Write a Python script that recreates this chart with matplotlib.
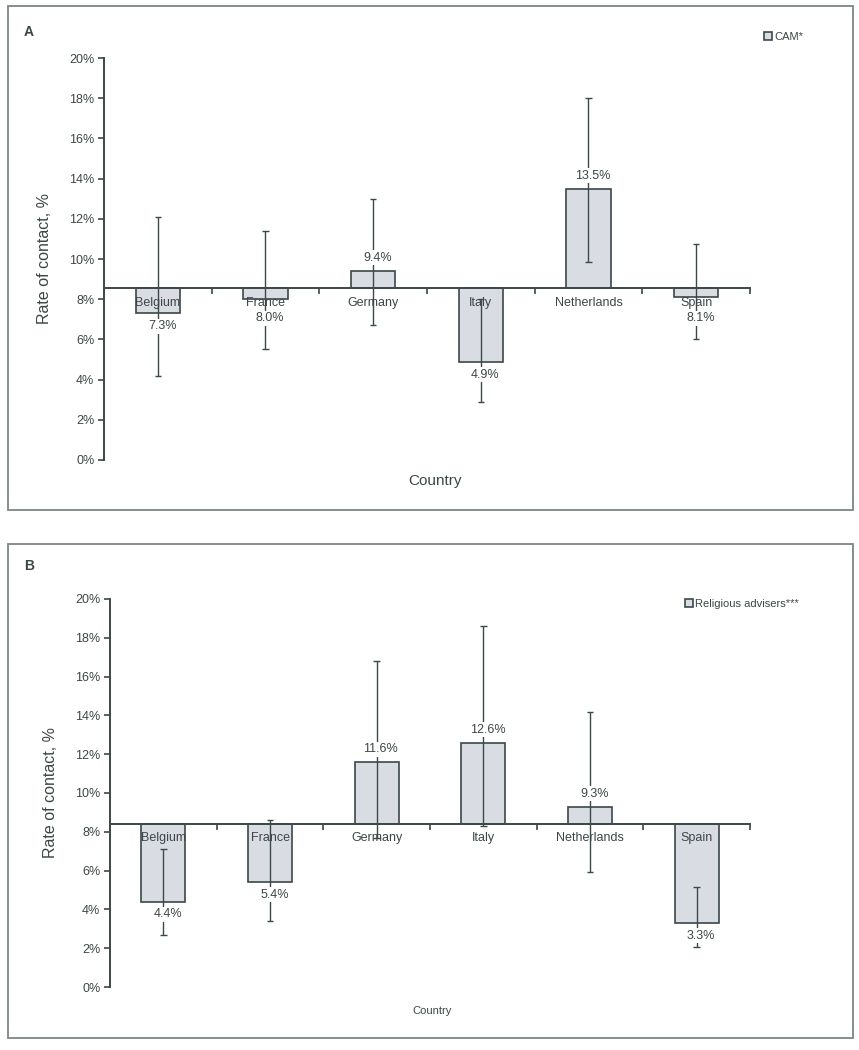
import matplotlib
matplotlib.use("Agg")
import matplotlib.pyplot as plt
from matplotlib.patches import Rectangle, Patch
import numpy as np

plt.rcParams['font.family'] = ['Liberation Sans', 'DejaVu Sans']

countries = ["Belgium", "France", "Germany", "Italy", "Netherlands", "Spain"]

# panel A - CAM
cam_rate = [7.3, 8.0, 9.4, 4.9, 13.5, 8.1]
cam_low = [4.2, 5.5, 6.7, 2.9, 9.85, 6.0]
cam_high = [12.1, 11.4, 13.0, 8.0, 18.0, 10.75]
cam_base = 8.55

# panel B - religious advisers
rel_rate = [4.4, 5.4, 11.6, 12.6, 9.3, 3.3]
rel_low = [2.7, 3.4, 7.7, 8.3, 5.95, 2.05]
rel_high = [7.1, 8.6, 16.8, 18.6, 14.15, 5.15]
rel_base = 8.4

yticks = np.arange(0, 21, 2)
ytick_labels = [f"{v}%" for v in yticks]

LINE = "#3b4948"
TEXT = "#3d4646"
FILL = "#d9dde3"

W, H = 859, 1050
fig = plt.figure(figsize=(W / 100, H / 100), dpi=100)


def px_axes(x0, y_top, x1, y_bot):
    return fig.add_axes([x0 / W, 1 - y_bot / H, (x1 - x0) / W, (y_bot - y_top) / H])


def draw_panel(ax, rate, low, high, base):
    x = np.arange(len(countries))
    heights = [r - base for r in rate]
    ax.bar(x, heights, bottom=base, width=0.41, color=FILL,
           edgecolor=LINE, linewidth=1.2, zorder=2)
    ax.vlines(x, low, high, color=LINE, linewidth=1.0, zorder=3)
    ax.hlines(low, x - 0.03, x + 0.03, color=LINE, linewidth=1.0, zorder=3)
    ax.hlines(high, x - 0.03, x + 0.03, color=LINE, linewidth=1.0, zorder=3)

    for xi, r in zip(x, rate):
        if r > base:
            ty = r + 0.65
        else:
            # keep the value clear of the country name under the baseline
            ty = min(r - 0.65, base - 1.5)
        ax.text(xi + 0.04, ty, f"{r:.1f}%", ha="center", va="center",
                fontsize=9, color=TEXT, zorder=4,
                bbox=dict(boxstyle="square,pad=0.12", fc="white", ec="none"))
        ax.text(xi, base - 0.72, countries[xi], ha="center", va="center",
                fontsize=9, color=TEXT, zorder=5)

    ax.set_xlim(-0.5, len(countries) - 0.5)
    ax.set_ylim(0, 20)
    ax.set_yticks(yticks)
    ax.set_yticklabels(ytick_labels, fontsize=9, color=TEXT)
    ax.set_xticks(np.arange(-0.5, len(countries), 1.0))
    ax.set_xticklabels([])
    ax.tick_params(axis="x", direction="out", length=4, color=LINE, width=1.2)
    ax.tick_params(axis="y", direction="out", length=4, color=LINE, width=1.2, pad=3)
    ax.spines["top"].set_visible(False)
    ax.spines["right"].set_visible(False)
    ax.spines["bottom"].set_position(("data", base))
    ax.spines["bottom"].set_color(LINE)
    ax.spines["bottom"].set_linewidth(1.4)
    ax.spines["left"].set_color(LINE)
    ax.spines["left"].set_linewidth(1.4)
    ax.set_ylabel("Rate of contact, %", fontsize=11.5, color=TEXT, labelpad=12)


# outer frames
for (x0, y0, x1, y1) in [(8, 6, 853, 510), (8, 544, 853, 1038)]:
    fig.patches.append(Rectangle((x0 / W, 1 - y1 / H), (x1 - x0) / W, (y1 - y0) / H,
                                 transform=fig.transFigure, fill=False,
                                 edgecolor="#7d8585", linewidth=1.3))

axA = px_axes(104, 58, 750, 460)
draw_panel(axA, cam_rate, cam_low, cam_high, cam_base)
axB = px_axes(110, 599, 750, 987)
draw_panel(axB, rel_rate, rel_low, rel_high, rel_base)

fig.text(435 / W, 1 - 481 / H, "Country", ha="center", va="center", fontsize=11, color=TEXT)
fig.text(432 / W, 1 - 1011 / H, "Country", ha="center", va="center", fontsize=8, color=TEXT)

fig.text(24 / W, 1 - 32 / H, "A", ha="left", va="center", fontsize=10, fontweight="bold", color=TEXT)
fig.text(24 / W, 1 - 566 / H, "B", ha="left", va="center", fontsize=10, fontweight="bold", color=TEXT)

for label, (lx, ly) in [("CAM*", (764, 37)), ("Religious advisers***", (685, 604))]:
    handle = Patch(facecolor=FILL, edgecolor=LINE, linewidth=1.2, label=label)
    fig.legend(handles=[handle], loc="center left", bbox_to_anchor=(lx / W, 1 - ly / H),
               frameon=False, fontsize=8, handlelength=0.7, handleheight=0.7,
               handletextpad=0.2, borderpad=0, borderaxespad=0, labelcolor=TEXT)

fig.savefig("out.png", dpi=100)
